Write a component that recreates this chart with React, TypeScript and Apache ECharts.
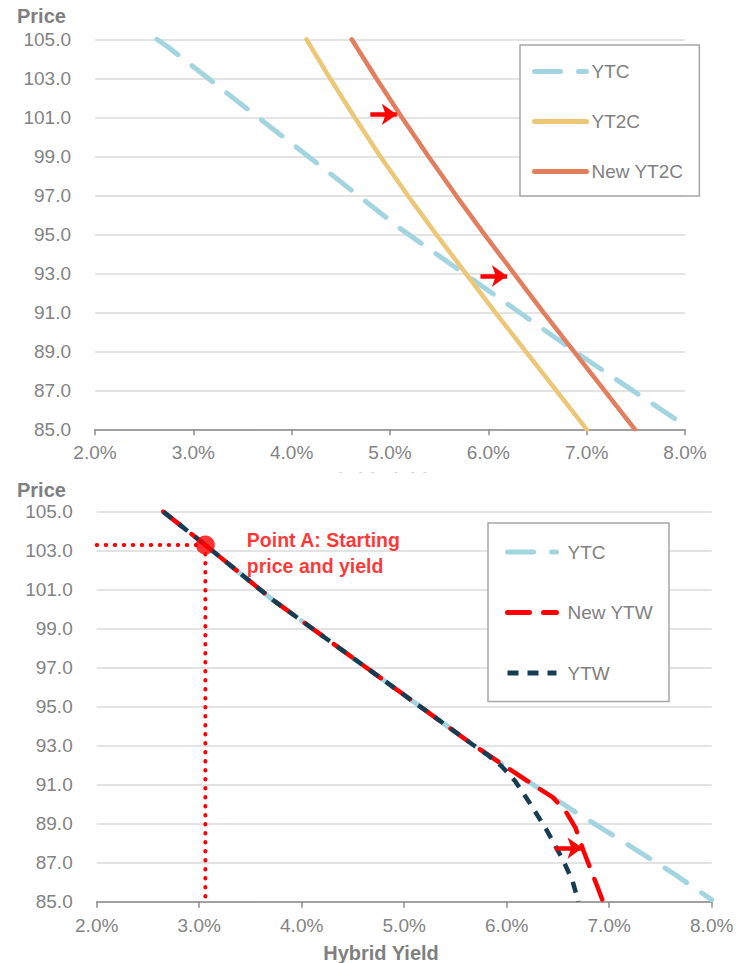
import React, { useEffect, useRef } from "react";
import * as echarts from "echarts";

// ---- data ----
const xTicks = [2, 3, 4, 5, 6, 7, 8];
const yMin = 85;
const yMax = 105;

// Top panel
const topYtc: number[][] = [[2.63, 105], [2.76, 104.54], [3.5, 101.62], [4.3, 98.48], [5.1, 95.31], [5.75, 93.0], [6.3, 91.05], [6.93, 88.82], [7.5, 86.88], [8.0, 85.2]];
const topYt2c: number[][] = [[4.15, 105], [4.39, 103], [4.64, 101], [4.9, 99], [5.18, 97], [5.47, 95], [5.77, 93], [6.07, 91], [6.38, 89], [6.69, 87], [7.0, 85]];
const topNewYt2c: number[][] = [[4.61, 105], [4.86, 103], [5.12, 101], [5.39, 99], [5.67, 97], [5.96, 95], [6.26, 93], [6.56, 91], [6.87, 89], [7.18, 87], [7.49, 85]];
const topArrows: number[][][] = [[[4.8, 101.15], [5.07, 101.15]], [[5.92, 92.86], [6.19, 92.86]]];

// Bottom panel
const botYtc: number[][] = [[2.65, 105], [3.06, 103.29], [3.72, 100.47], [4.5, 97.5], [5.0, 95.6], [5.67, 93.05], [6.2, 91.2], [6.67, 89.6], [7.08, 88.27], [7.62, 86.47], [8.0, 85.1]];
const botNewYtw: number[][] = [[2.65, 105], [3.06, 103.29], [3.72, 100.47], [4.5, 97.5], [5.0, 95.6], [5.67, 93.05], [6.2, 91.2], [6.45, 90.35], [6.58, 89.6], [6.67, 88.8], [6.75, 87.6], [6.89, 85.7], [6.94, 85.0]];
const botYtw: number[][] = [[2.65, 105], [3.06, 103.29], [3.72, 100.47], [4.5, 97.5], [5.0, 95.6], [5.67, 93.05], [5.82, 92.5], [5.95, 91.95], [6.08, 91.2], [6.22, 90.1], [6.39, 88.67], [6.55, 87.13], [6.64, 86.1], [6.7, 85.0]];
const pointA: number[] = [3.06, 103.29];
const botArrow: number[][] = [[6.47, 87.75], [6.74, 87.75]];

const topLegend = ["YTC", "YT2C", "New YT2C"];
const botLegend = ["YTC", "New YTW", "YTW"];

const FONT = "'Liberation Sans', Arial, sans-serif";
const C_BLUE = "#A3D5E0";
const C_YEL = "#EBC777";
const C_ORG = "#E27E5E";
const C_RED = "#FF0000";
const C_NAVY = "#163D52";
const C_TXT = "#838383";

function xAxis(gi: number) {
  return {
    type: "value",
    gridIndex: gi,
    min: xTicks[0],
    max: xTicks[xTicks.length - 1],
    interval: 1,
    axisLine: { show: true, lineStyle: { color: "#8C8C8C", width: 1.5 } },
    axisTick: { show: true, length: 6, lineStyle: { color: "#8C8C8C", width: 1.5 } },
    splitLine: { show: false },
    axisLabel: { formatter: (v: number) => v.toFixed(1) + "%", color: C_TXT, fontSize: 19, margin: 14, fontFamily: FONT },
  };
}
function yAxis(gi: number) {
  return {
    type: "value",
    gridIndex: gi,
    min: yMin,
    max: yMax,
    interval: 2,
    axisLine: { show: false },
    axisTick: { show: false },
    splitLine: { show: true, lineStyle: { color: "#DADADA", width: 1.5 } },
    axisLabel: { formatter: (v: number) => v.toFixed(1), color: C_TXT, fontSize: 19, margin: 24, fontFamily: FONT },
  };
}

function arrowMark(pairs: number[][][]) {
  return {
    silent: true,
    symbol: ["none", "arrow"],
    symbolSize: [16, 15],
    label: { show: false },
    lineStyle: { color: C_RED, width: 4.5, type: "solid" },
    data: pairs.map((p) => [{ coord: p[0] }, { coord: p[1] }]),
  };
}

export default function App() {
  const ref = useRef<HTMLDivElement>(null);
  useEffect(() => {
    if (!ref.current) return;
    const chart = echarts.init(ref.current, null, { renderer: "svg" });
    const legendText = { color: "#7F7F7F", fontSize: 19, fontFamily: FONT };
    const option: any = {
      animation: false,
      textStyle: { fontFamily: FONT },
      grid: [
        { left: 95, top: 39.3, width: 590, height: 390 },
        { left: 96.7, top: 511.7, width: 615, height: 390 },
      ],
      xAxis: [xAxis(0), xAxis(1)],
      yAxis: [yAxis(0), yAxis(1)],
      legend: [
        {
          data: topLegend,
          orient: "vertical",
          left: 520,
          top: 45,
          padding: [17, 16, 15, 12],
          itemGap: 31,
          itemWidth: 52,
          itemHeight: 14,
          itemStyle: { opacity: 0 },
          lineStyle: { width: 5, cap: "round" },
          backgroundColor: "#fff",
          borderColor: "#A6A6A6",
          borderWidth: 1.5,
          borderRadius: 0,
          textStyle: legendText,
          selectedMode: false,
        },
        {
          data: botLegend,
          orient: "vertical",
          left: 488,
          top: 523,
          padding: [19.5, 16, 19, 17],
          itemGap: 41.5,
          itemWidth: 49,
          itemHeight: 14,
          itemStyle: { opacity: 0 },
          lineStyle: { width: 5 },
          backgroundColor: "#fff",
          borderColor: "#A6A6A6",
          borderWidth: 1.5,
          borderRadius: 0,
          textStyle: { ...legendText, padding: [0, 0, 0, 6] },
          selectedMode: false,
        },
      ],
      series: [
        {
          name: "YTC", type: "line", xAxisIndex: 0, yAxisIndex: 0, data: topYtc, symbol: "none",
          lineStyle: { color: C_BLUE, width: 5, type: [26, 18], cap: "round" }, itemStyle: { color: C_BLUE },
        },
        {
          name: "YT2C", type: "line", xAxisIndex: 0, yAxisIndex: 0, data: topYt2c, symbol: "none",
          lineStyle: { color: C_YEL, width: 4.5, cap: "round" }, itemStyle: { color: C_YEL },
        },
        {
          name: "New YT2C", type: "line", xAxisIndex: 0, yAxisIndex: 0, data: topNewYt2c, symbol: "none",
          lineStyle: { color: C_ORG, width: 4.5, cap: "round" }, itemStyle: { color: C_ORG },
          markLine: arrowMark(topArrows),
        },
        {
          name: "YTC", type: "line", xAxisIndex: 1, yAxisIndex: 1, data: botYtc, symbol: "none",
          lineStyle: { color: C_BLUE, width: 5, type: [26, 18], cap: "round" }, itemStyle: { color: C_BLUE },
        },
        {
          name: "New YTW", type: "line", xAxisIndex: 1, yAxisIndex: 1, data: botNewYtw, symbol: "none",
          lineStyle: { color: C_RED, width: 4.5, type: [22, 14], cap: "round" }, itemStyle: { color: C_RED },
          markLine: arrowMark([botArrow]),
        },
        {
          name: "YTW", type: "line", xAxisIndex: 1, yAxisIndex: 1, data: botYtw, symbol: "none",
          lineStyle: { color: C_NAVY, width: 4.5, type: [11, 9], cap: "butt" }, itemStyle: { color: C_NAVY },
        },
        {
          name: "guideH", type: "line", xAxisIndex: 1, yAxisIndex: 1, symbol: "none", silent: true,
          data: [[xTicks[0], pointA[1]], [pointA[0], pointA[1]]],
          lineStyle: { color: C_RED, width: 4, type: [0.5, 8.5], cap: "round" },
        },
        {
          name: "guideV", type: "line", xAxisIndex: 1, yAxisIndex: 1, symbol: "none", silent: true,
          data: [[pointA[0], pointA[1]], [pointA[0], yMin]],
          lineStyle: { color: C_RED, width: 4, type: [0.5, 8.5], cap: "round" },
        },
        {
          name: "Point A", type: "scatter", xAxisIndex: 1, yAxisIndex: 1, data: [pointA], symbolSize: 19,
          itemStyle: { color: C_RED }, z: 5,
          label: {
            show: true, position: "right", distance: 32, offset: [0, 8],
            formatter: "Point A: Starting\nprice and yield",
            color: C_RED, fontWeight: "bold", fontSize: 19.5, lineHeight: 26, fontFamily: FONT,
          },
        },
      ],
      graphic: [
        { type: "text", left: 17, top: 6, style: { text: "Price", fill: "#7F7F7F", font: `bold 20px ${FONT}` } },
        { type: "text", left: 17, top: 480, style: { text: "Price", fill: "#7F7F7F", font: `bold 20px ${FONT}` } },
        { type: "text", x: 370, y: 470, z: 1, style: { text: "Hybrid Yield", fill: "#A8A8A8", font: `bold 20px ${FONT}`, align: "center", verticalAlign: "top" } },
        { type: "rect", z: 100, shape: { x: 290, y: 472.5, width: 170, height: 20 }, style: { fill: "#fff" } },
        { type: "text", x: 381, y: 953, style: { text: "Hybrid Yield", fill: "#7F7F7F", font: `bold 20px ${FONT}`, align: "center", verticalAlign: "middle" } },
      ],
    };
    chart.setOption(option);
    return () => chart.dispose();
  }, []);
  return <div ref={ref} style={{ position: "fixed", left: 0, top: 0, width: 747, height: 963, background: "#fff" }} />;
}
